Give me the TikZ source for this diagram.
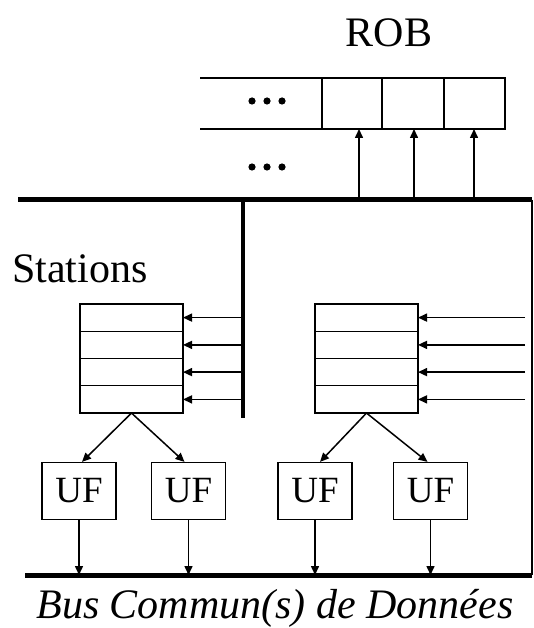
\documentclass[tikz,border=0pt]{standalone}
\usepackage{fontspec}
\setmainfont{Liberation Serif}
\usetikzlibrary{arrows.meta,calc}
\begin{document}
\begin{tikzpicture}[x=1pt,y=-1pt,
  thin line/.style={line width=1.3pt},
  bus/.style={line width=5pt},
  frame/.style={line width=2pt},
  arr/.style={line width=1.5pt,-{Triangle[length=9pt,width=8pt]}},
  cell/.style={draw,line width=1.3pt,minimum width=103pt,minimum height=27.25pt,inner sep=0pt,outer sep=0pt},
  robcell/.style={draw,line width=1.3pt,minimum height=51pt,inner sep=0pt,outer sep=0pt},
  uf/.style={draw,line width=1.2pt,minimum width=74pt,minimum height=57pt,inner sep=0pt,font=\fontsize{37}{40}\selectfont},
  lbl/.style={font=\fontsize{42}{46}\selectfont,inner sep=0pt}]
\useasboundingbox (0,0) rectangle (534,628);
% titles
\node[lbl,anchor=base] (rob) at (389,47) {ROB};
\node[lbl,anchor=base west] (stations) at (12,282) {Stations};
\node[lbl,anchor=base,font=\fontsize{42}{46}\selectfont\itshape] (caption) at (275,618) {Bus Commun(s) de Données};
% ROB
\node[robcell,minimum width=60pt] (rob1) at (352,103.5) {};
\node[robcell,minimum width=62pt] (rob2) at (413,103.5) {};
\node[robcell,minimum width=61pt] (rob3) at (474.5,103.5) {};
\coordinate (robL) at (200,78);
\draw[thin line] (robL) -- (rob1.north west);
\draw[thin line] (robL |- rob1.south) -- (rob1.south west);
\node (dotsA) at (267,101) {};
\node (dotsB) at (267,167) {};
\foreach \n in {dotsA,dotsB}{
  \foreach \dx in {-15,0,15}{\fill ([xshift=\dx]\n.center) circle (3.6);}
}
% buses
\coordinate (busTL) at (18,200);
\coordinate (busTR) at (532,200);
\coordinate (busBL) at (25,575);
\coordinate (busBR) at (532,575);
\coordinate (vbarT) at (243,200);
\coordinate (vbarB) at (243,418);
\draw[bus] (busTL) -- (busTR);
\draw[bus] (busBL) -- (busBR);
\draw[frame] (busTR) -- (busBR);
\draw[line width=4.5pt] (vbarT) -- (vbarB);
% ROB arrows
\foreach \x/\c in {359/rob1,414/rob2,474/rob3}{
  \coordinate (u\c) at (\x,200);
  \draw[arr] (u\c) -- (u\c |- \c.south);
}
% stacks
\foreach \i/\y in {1/317.6,2/344.9,3/372.1,4/399.4}{
  \node[cell] (L\i) at (131.5,\y) {};
  \node[cell] (R\i) at (366.5,\y) {};
  \draw[arr] (L\i.east -| vbarT) -- (L\i.east);
  \coordinate (rin\i) at (525,\y);
  \draw[arr] (rin\i) -- (R\i.east);
}
% UF boxes
\node[uf] (uf1) at (79,491) {UF};
\node[uf] (uf2) at (188.5,491) {UF};
\node[uf] (uf3) at (315,491) {UF};
\node[uf] (uf4) at (430.5,491) {UF};
\draw[arr] (L4.south) -- ([xshift=3]uf1.north);
\draw[arr] (L4.south) -- ([xshift=-4]uf2.north);
\draw[arr] (R4.south) -- ([xshift=5]uf3.north);
\draw[arr] (R4.south) -- ([xshift=-3]uf4.north);
\foreach \i in {1,2,3,4}{
  \draw[arr] (uf\i.south) -- (uf\i.south |- busBL);
}
\end{tikzpicture}
\end{document}
